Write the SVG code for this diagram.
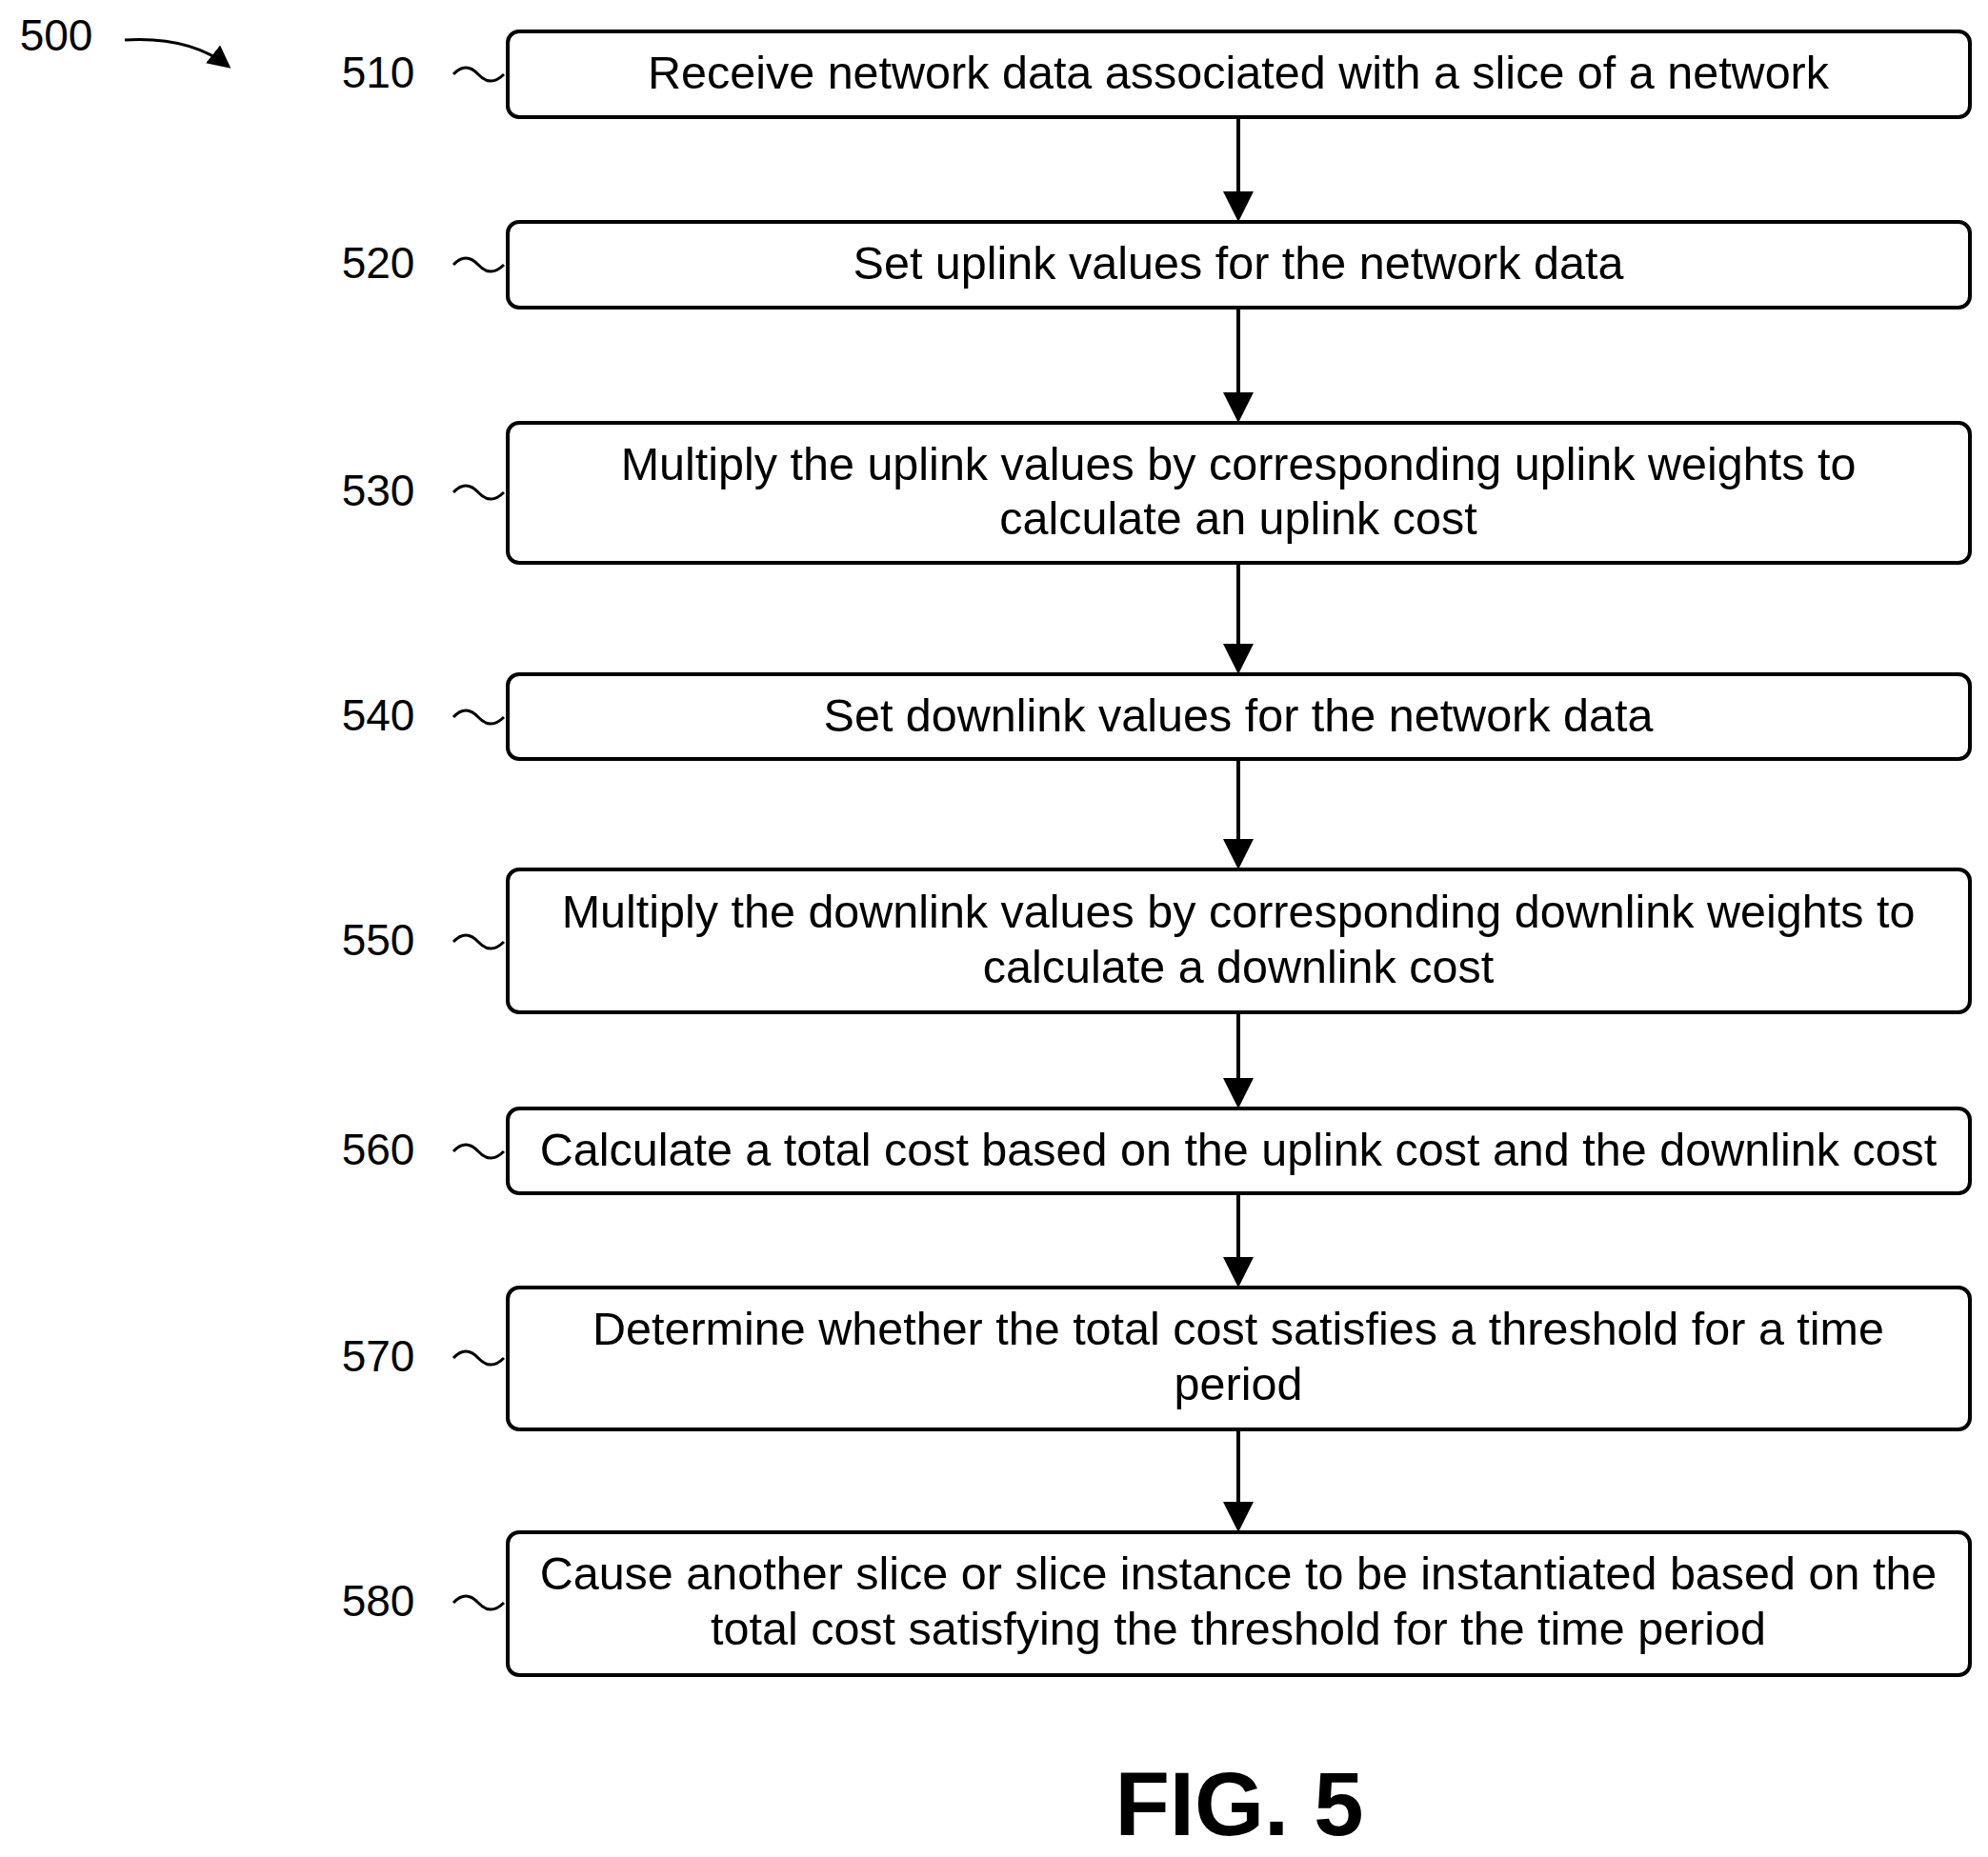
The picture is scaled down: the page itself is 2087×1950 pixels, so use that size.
<svg xmlns="http://www.w3.org/2000/svg" width="2087" height="1950" viewBox="0 0 2087 1950">
<style>
.b{fill:#fff;stroke:#000;stroke-width:4}
.t{font-family:"Liberation Sans",Arial,sans-serif;font-size:48.5px;text-anchor:middle;dominant-baseline:central}
.l{font-family:"Liberation Sans",Arial,sans-serif;font-size:46px;text-anchor:middle;dominant-baseline:central}
.s{fill:none;stroke:#000;stroke-width:3}
.c{stroke:#000;stroke-width:4;marker-end:url(#a)}
</style>
<defs><marker id="a" markerWidth="8" markerHeight="8" refX="7" refY="4" orient="auto" markerUnits="strokeWidth"><path d="M0,0L8,4L0,8z"/></marker></defs>
<rect width="2087" height="1950" fill="#fff"/>
<text class="l" x="59" y="37">500</text>
<path d="M131,42 Q200,38 240,70" class="s" marker-end="url(#a)"/>
<g id="n510"><rect class="b" x="533" y="33" width="1535" height="90" rx="12"/><text class="t" x="1300" y="76">Receive network data associated with a slice of a network</text><text class="l" x="397" y="76">510</text><path class="s" d="M476,78 q13,-14 26,0 t27,0"/></g>
<g id="n520"><rect class="b" x="533" y="233" width="1535" height="90" rx="12"/><text class="t" x="1300" y="276">Set uplink values for the network data</text><text class="l" x="397" y="276">520</text><path class="s" d="M476,278 q13,-14 26,0 t27,0"/></g>
<g id="n530"><rect class="b" x="533" y="444" width="1535" height="147" rx="12"/><text class="t" x="1300" y="487">Multiply the uplink values by corresponding uplink weights to</text><text class="t" x="1300" y="544">calculate an uplink cost</text><text class="l" x="397" y="515">530</text><path class="s" d="M476,517 q13,-14 26,0 t27,0"/></g>
<g id="n540"><rect class="b" x="533" y="708" width="1535" height="89" rx="12"/><text class="t" x="1300" y="751">Set downlink values for the network data</text><text class="l" x="397" y="751">540</text><path class="s" d="M476,753 q13,-14 26,0 t27,0"/></g>
<g id="n550"><rect class="b" x="533" y="913" width="1535" height="150" rx="12"/><text class="t" x="1300" y="957">Multiply the downlink values by corresponding downlink weights to</text><text class="t" x="1300" y="1015">calculate a downlink cost</text><text class="l" x="397" y="987">550</text><path class="s" d="M476,989 q13,-14 26,0 t27,0"/></g>
<g id="n560"><rect class="b" x="533" y="1164" width="1535" height="89" rx="12"/><text class="t" x="1300" y="1207">Calculate a total cost based on the uplink cost and the downlink cost</text><text class="l" x="397" y="1207">560</text><path class="s" d="M476,1209 q13,-14 26,0 t27,0"/></g>
<g id="n570"><rect class="b" x="533" y="1352" width="1535" height="149" rx="12"/><text class="t" x="1300" y="1395">Determine whether the total cost satisfies a threshold for a time</text><text class="t" x="1300" y="1453">period</text><text class="l" x="397" y="1424">570</text><path class="s" d="M476,1426 q13,-14 26,0 t27,0"/></g>
<g id="n580"><rect class="b" x="533" y="1609" width="1535" height="150" rx="12"/><text class="t" x="1300" y="1652">Cause another slice or slice instance to be instantiated based on the</text><text class="t" x="1300" y="1710">total cost satisfying the threshold for the time period</text><text class="l" x="397" y="1681">580</text><path class="s" d="M476,1683 q13,-14 26,0 t27,0"/></g>
<g id="connectors">
<line class="c" x1="1300" y1="123" x2="1300" y2="229"/>
<line class="c" x1="1300" y1="323" x2="1300" y2="440"/>
<line class="c" x1="1300" y1="591" x2="1300" y2="704"/>
<line class="c" x1="1300" y1="797" x2="1300" y2="909"/>
<line class="c" x1="1300" y1="1063" x2="1300" y2="1160"/>
<line class="c" x1="1300" y1="1253" x2="1300" y2="1348"/>
<line class="c" x1="1300" y1="1501" x2="1300" y2="1605"/>
</g>
<text x="1301" y="1927" font-family="Liberation Sans,Arial,sans-serif" font-size="94" font-weight="bold" text-anchor="middle">FIG. 5</text>
</svg>
